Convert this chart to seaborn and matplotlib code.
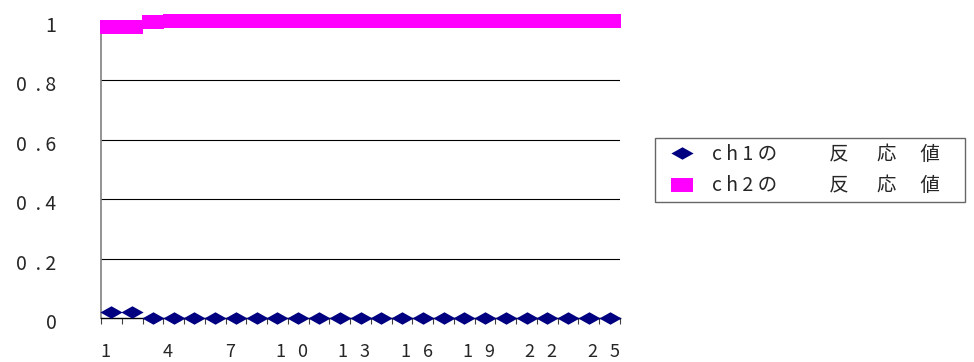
import matplotlib
matplotlib.use("Agg")
import matplotlib.pyplot as plt
import matplotlib.transforms as mtransforms
from matplotlib.ticker import FixedLocator
import seaborn as sns
import pandas as pd

# Measurement index and channel responses
points = list(range(1, 26))
ch1_values = [0.02, 0.02, 0.0, 0.0, 0.0, 0.0, 0.0, 0.0, 0.0, 0.0,
              0.0, 0.0, 0.0, 0.0, 0.0, 0.0, 0.0, 0.0, 0.0, 0.0,
              0.0, 0.0, 0.0, 0.0, 0.0]
ch2_values = [0.98, 0.98, 0.995, 1.0, 1.0, 1.0, 1.0, 1.0, 1.0, 1.0,
              1.0, 1.0, 1.0, 1.0, 1.0, 1.0, 1.0, 1.0, 1.0, 1.0,
              1.0, 1.0, 1.0, 1.0, 1.0]
series_labels = ["c h 1 の　　   反　  応　 値　", "c h 2 の　　   反　  応　 値　"]
x_tick_positions = [1, 4, 7, 10, 13, 16, 19, 22, 25]
x_tick_labels = ["1", "4", "7", "1   0", "1   3", "1   6", "1   9", "2   2", "2   5"]
y_tick_positions = [0, 0.2, 0.4, 0.6, 0.8, 1.0]
y_tick_labels = ["0", "0  . 2", "0  . 4", "0  . 6", "0  . 8", "1"]

sns.set_theme(style="white")
plt.rcParams["font.family"] = ["Noto Sans CJK JP", "DejaVu Sans"]

W, H = 974, 362
fig = plt.figure(figsize=(W / 100, H / 100), dpi=100)
ax = fig.add_axes([101 / W, 1 - 318 / H, (620 - 101) / W, (318 - 21) / H])

df1 = pd.DataFrame({"x": points, "y": ch1_values})
df2 = pd.DataFrame({"x": points, "y": ch2_values})

diamond = [(-1, 0), (0, 0.56), (1, 0), (0, -0.56), (-1, 0)]
rect = [(-1, -0.6), (1, -0.6), (1, 0.6), (-1, 0.6), (-1, -0.6)]

sns.lineplot(data=df1, x="x", y="y", ax=ax, color="#000080", linestyle="",
             marker=diamond, markersize=16, markeredgewidth=0,
             label=series_labels[0], zorder=3, clip_on=False)
sns.lineplot(data=df2, x="x", y="y", ax=ax, color="#FF00FF", linestyle="",
             marker=rect, markersize=16, markeredgewidth=0,
             label=series_labels[1], zorder=3, clip_on=False)

ax.set_xlim(0.5, 25.5)
ax.set_ylim(0, 1)
ax.set_xlabel("")
ax.set_ylabel("")

# horizontal gridlines
for yv in y_tick_positions[1:]:
    ax.axhline(yv, color="black", lw=0.8, zorder=1)

for side in ("top", "right"):
    ax.spines[side].set_visible(False)
ax.spines["left"].set_color("#808080")
ax.spines["left"].set_linewidth(1.2)
ax.spines["bottom"].set_color("black")
ax.spines["bottom"].set_linewidth(1.0)

# category boundary ticks on the x axis
ax.xaxis.set_minor_locator(FixedLocator([i + 0.5 for i in range(0, 26)]))
ax.tick_params(axis="x", which="minor", bottom=True, length=4, width=0.8,
               color="#404040", direction="out")
ax.set_xticks(x_tick_positions)
ax.set_xticklabels(x_tick_labels, fontsize=13)
ax.tick_params(axis="x", which="major", bottom=True, length=0, pad=18)
xshift = mtransforms.ScaledTranslation(-6 / 100, 0, fig.dpi_scale_trans)
for lbl in ax.get_xticklabels():
    lbl.set_transform(lbl.get_transform() + xshift)

ax.set_yticks(y_tick_positions)
ax.set_yticklabels(y_tick_labels, fontsize=14)
ax.tick_params(axis="y", length=0, pad=32)
yshift = mtransforms.ScaledTranslation(0, -3 / 100, fig.dpi_scale_trans)
for lbl in ax.get_yticklabels():
    lbl.set_transform(lbl.get_transform() + yshift)

leg = ax.legend(loc="upper left", bbox_to_anchor=(655 / W, 1 - 138 / H),
                bbox_transform=fig.transFigure, borderaxespad=0,
                frameon=True, fancybox=False, fontsize=14,
                handlelength=2.17, handletextpad=0.45, borderpad=0.3,
                labelspacing=0.54)
leg.get_frame().set_edgecolor("#404040")
leg.get_frame().set_linewidth(1.0)

fig.savefig("out.png", dpi=100)
